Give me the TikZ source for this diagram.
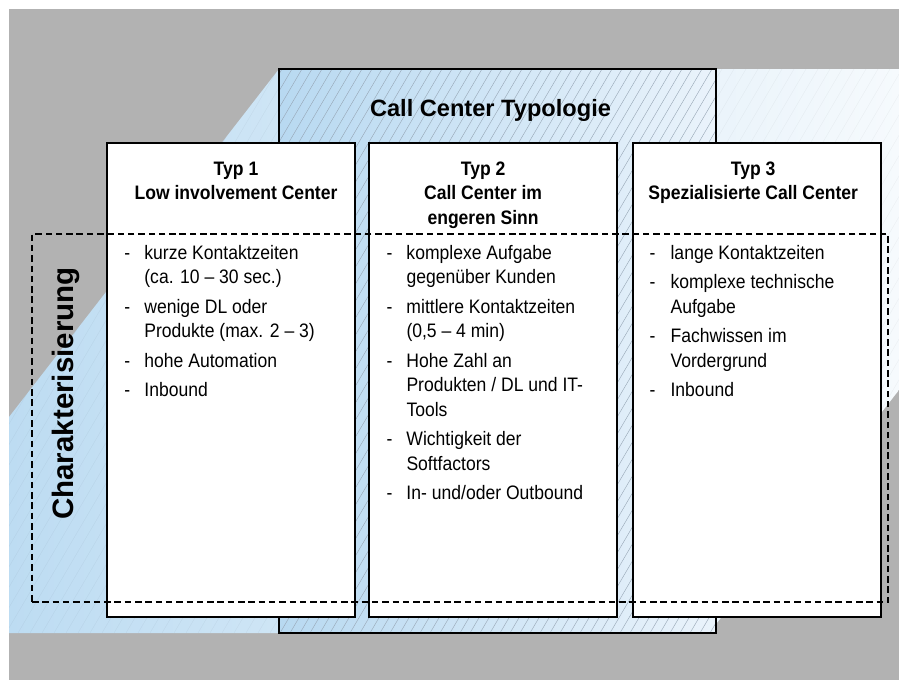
\documentclass[tikz,border=0pt]{standalone}
\usepackage{fontspec}
\setmainfont{Liberation Sans}
\newfontfamily\narrowfont[FakeStretch=0.9]{Liberation Sans}
\usepackage{tikz}
\usetikzlibrary{positioning}
\definecolor{bggray}{RGB}{178,178,178}
\definecolor{bandblue}{RGB}{189,220,242}
\definecolor{bandwhite}{RGB}{246,250,253}
\definecolor{typblue}{RGB}{184,217,241}
\definecolor{typlight}{RGB}{234,243,251}
\definecolor{hatchgray}{RGB}{150,165,180}
\tikzset{
	typbox/.style = {draw, line width=1.6pt, fill=white, minimum width=248pt, minimum height=474pt, inner sep=0},
	typofill/.style = {left color=typblue, right color=typlight, minimum width=437pt, minimum height=564pt, inner sep=0, outer sep=0},
	head/.style = {font=\narrowfont\bfseries\fontsize{19.5}{24.5}\selectfont, inner sep=0},
	items/.style = {font=\narrowfont\fontsize{19.5}{24.5}\selectfont, inner sep=0},
	title/.style = {font=\bfseries\fontsize{23.6}{28}\selectfont, inner sep=0},
	sidelabel/.style = {font=\bfseries\fontsize{29.5}{35}\selectfont, rotate=90, anchor=base, inner sep=0},
	hatch/.style = {draw=hatchgray, line width=0.4pt},
	bandhatch/.style = {draw=black, opacity=0.04, line width=0.5pt},
	charbox/.style = {draw, line width=2.3pt, dash pattern=on 6.5pt off 3.8pt, minimum width=856pt, minimum height=368pt, inner sep=0}
}
\begin{document}
\begin{tikzpicture}[x=1pt, y=-1pt]
	\useasboundingbox (0,0) rectangle (899,680);
	\fill[white] (0,0) rectangle (899,680);
	\fill[bggray] (9,9) rectangle (899,680);
	
	\shade[left color=bandblue, right color=bandwhite] (9,417) -- (279,69) -- (899,69) -- (899,390) -- (709,633) -- (9,633) -- cycle;
	\begin{scope}
		\clip (9,417) -- (279,69) -- (899,69) -- (899,390) -- (709,633) -- (9,633) -- cycle;
		\foreach \x in {-330,-318,...,900}
			\draw[bandhatch] (\x,633) -- ++(332,-564);
	\end{scope}
	
	\node [typofill] (typo) at (497.5,351) {};
	\begin{scope}
		\clip (typo.north west) rectangle (typo.south east);
		\foreach \x in {-60,-50,...,720}
			\draw[hatch] (\x,633) -- ++(332,-564);
	\end{scope}
	\draw [line width=1.6pt] (typo.north west) rectangle (typo.south east);
	\node [title] [below=47pt of typo.north, anchor=base, xshift=-7pt] (title) {Call Center Typologie};
	
	\node [typbox] (b1) at (231,380) {};
	\node [typbox] [right=12.5pt of b1] (b2) {};
	\node [typbox] [right=14.5pt of b2] (b3) {};
	
	\node [head] [below=33pt of b1.north, anchor=base, xshift=5pt] (h1) {\begin{tabular}[t]{@{}c@{}}Typ 1\\Low involvement Center\end{tabular}};
	\node [head] [below=33pt of b2.north, anchor=base, xshift=-10pt] (h2) {\begin{tabular}[t]{@{}c@{}}Typ 2\\Call Center im\\engeren Sinn\end{tabular}};
	\node [head] [below=33pt of b3.north, anchor=base, xshift=-4pt] (h3) {\begin{tabular}[t]{@{}c@{}}Typ 3\\Spezialisierte Call Center\end{tabular}};
	
	\node [items] [below=117pt of b1.north west, anchor=base west, xshift=18pt] (l1) {\begin{tabular}[t]{@{}p{20pt}@{}l@{}}
		- & kurze Kontaktzeiten\\
		  & (ca. 10 – 30 sec.)\\[5pt]
		- & wenige DL oder\\
		  & Produkte (max. 2 – 3)\\[5pt]
		- & hohe Automation\\[5pt]
		- & Inbound
	\end{tabular}};
	\node [items] [below=117pt of b2.north west, anchor=base west, xshift=18pt] (l2) {\begin{tabular}[t]{@{}p{20pt}@{}l@{}}
		- & komplexe Aufgabe\\
		  & gegenüber Kunden\\[5pt]
		- & mittlere Kontaktzeiten\\
		  & (0,5 – 4 min)\\[5pt]
		- & Hohe Zahl an\\
		  & Produkten / DL und IT-\\
		  & Tools\\[5pt]
		- & Wichtigkeit der\\
		  & Softfactors\\[5pt]
		- & In- und/oder Outbound
	\end{tabular}};
	\node [items] [below=117pt of b3.north west, anchor=base west, xshift=17pt] (l3) {\begin{tabular}[t]{@{}p{21pt}@{}l@{}}
		- & lange Kontaktzeiten\\[5pt]
		- & komplexe technische\\
		  & Aufgabe\\[5pt]
		- & Fachwissen im\\
		  & Vordergrund\\[5pt]
		- & Inbound
	\end{tabular}};
	
	\node [charbox] (char) at (460,418) {};
	\node [sidelabel] at ([xshift=43pt, yshift=24.5pt]char.west) (charlabel) {Charakterisierung};
\end{tikzpicture}
\end{document}
